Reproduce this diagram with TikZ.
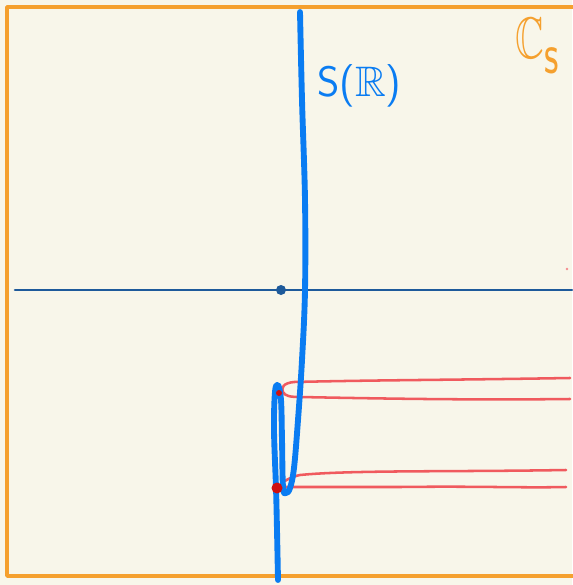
\documentclass[tikz,border=0pt]{standalone}
\usepackage{amssymb}
\begin{document}
\begin{tikzpicture}[x=0.75pt,y=-0.75pt,line cap=round,line join=round]
\definecolor{bg}{HTML}{F8F6EA}
\definecolor{frame}{HTML}{F5A02E}
\definecolor{axis}{HTML}{1E5A9A}
\definecolor{curve}{HTML}{0A7CF2}
\definecolor{tube}{HTML}{F05A5E}
\definecolor{dotred}{HTML}{D01010}
\tikzset{
  axisline/.style={draw=axis,line width=1.9pt},
  curveline/.style={draw=curve,line width=4.4pt},
  tubeline/.style={draw=tube,line width=1.9pt},
}
\useasboundingbox (0,0) rectangle (572,585);
\fill[bg] (0,0) rectangle (572,585);
\draw[frame,line width=2.6pt] (580,7) -- (7,7) -- (7,576) -- (580,576);
% axis
\draw[axisline] (15,290) -- (572,290);
\fill[axis] (281,290) circle (5);
% red tubes
\draw[tubeline] (570,378) .. controls (450,380) and (380,380) .. (294,382)
  .. controls (283,383) and (281,388) .. (283,392)
  .. controls (285,396) and (290,397) .. (300,397)
  .. controls (400,399) and (480,400) .. (570,399);
\draw[tubeline] (566,470) .. controls (450,472) and (350,470) .. (300,475)
  .. controls (290,477) and (282,482) .. (278,487)
  -- (400,487) .. controls (480,486) and (520,488) .. (566,487);
% blue curve
\draw[curveline] plot[smooth,tension=0.6] coordinates {
 (300,12) (302,100) (305,200) (305,290) (302,360) (298,420) (294,468) (290,488)
 (286,493) (283,487) (282,440) (281,400) (278,385) (275,392) (274,430) (276,488) (277,530) (278,580)};
\fill[dotred] (277,488) circle (5.5);
\fill[dotred] (279,393) circle (3);
\fill[tube!70] (567,269) circle (1.3);
% labels
\node[curve,anchor=west,inner sep=0pt] (sr) at (317,86) {\fontsize{32}{38}\selectfont\sffamily S($\mathbb{R}$)};
\node[frame,anchor=west,inner sep=0pt,xscale=0.68] (cs) at (515,46) {\fontsize{44}{50}\selectfont$\mathbb{C}_{\textsf{s}}$};
\end{tikzpicture}
\end{document}
